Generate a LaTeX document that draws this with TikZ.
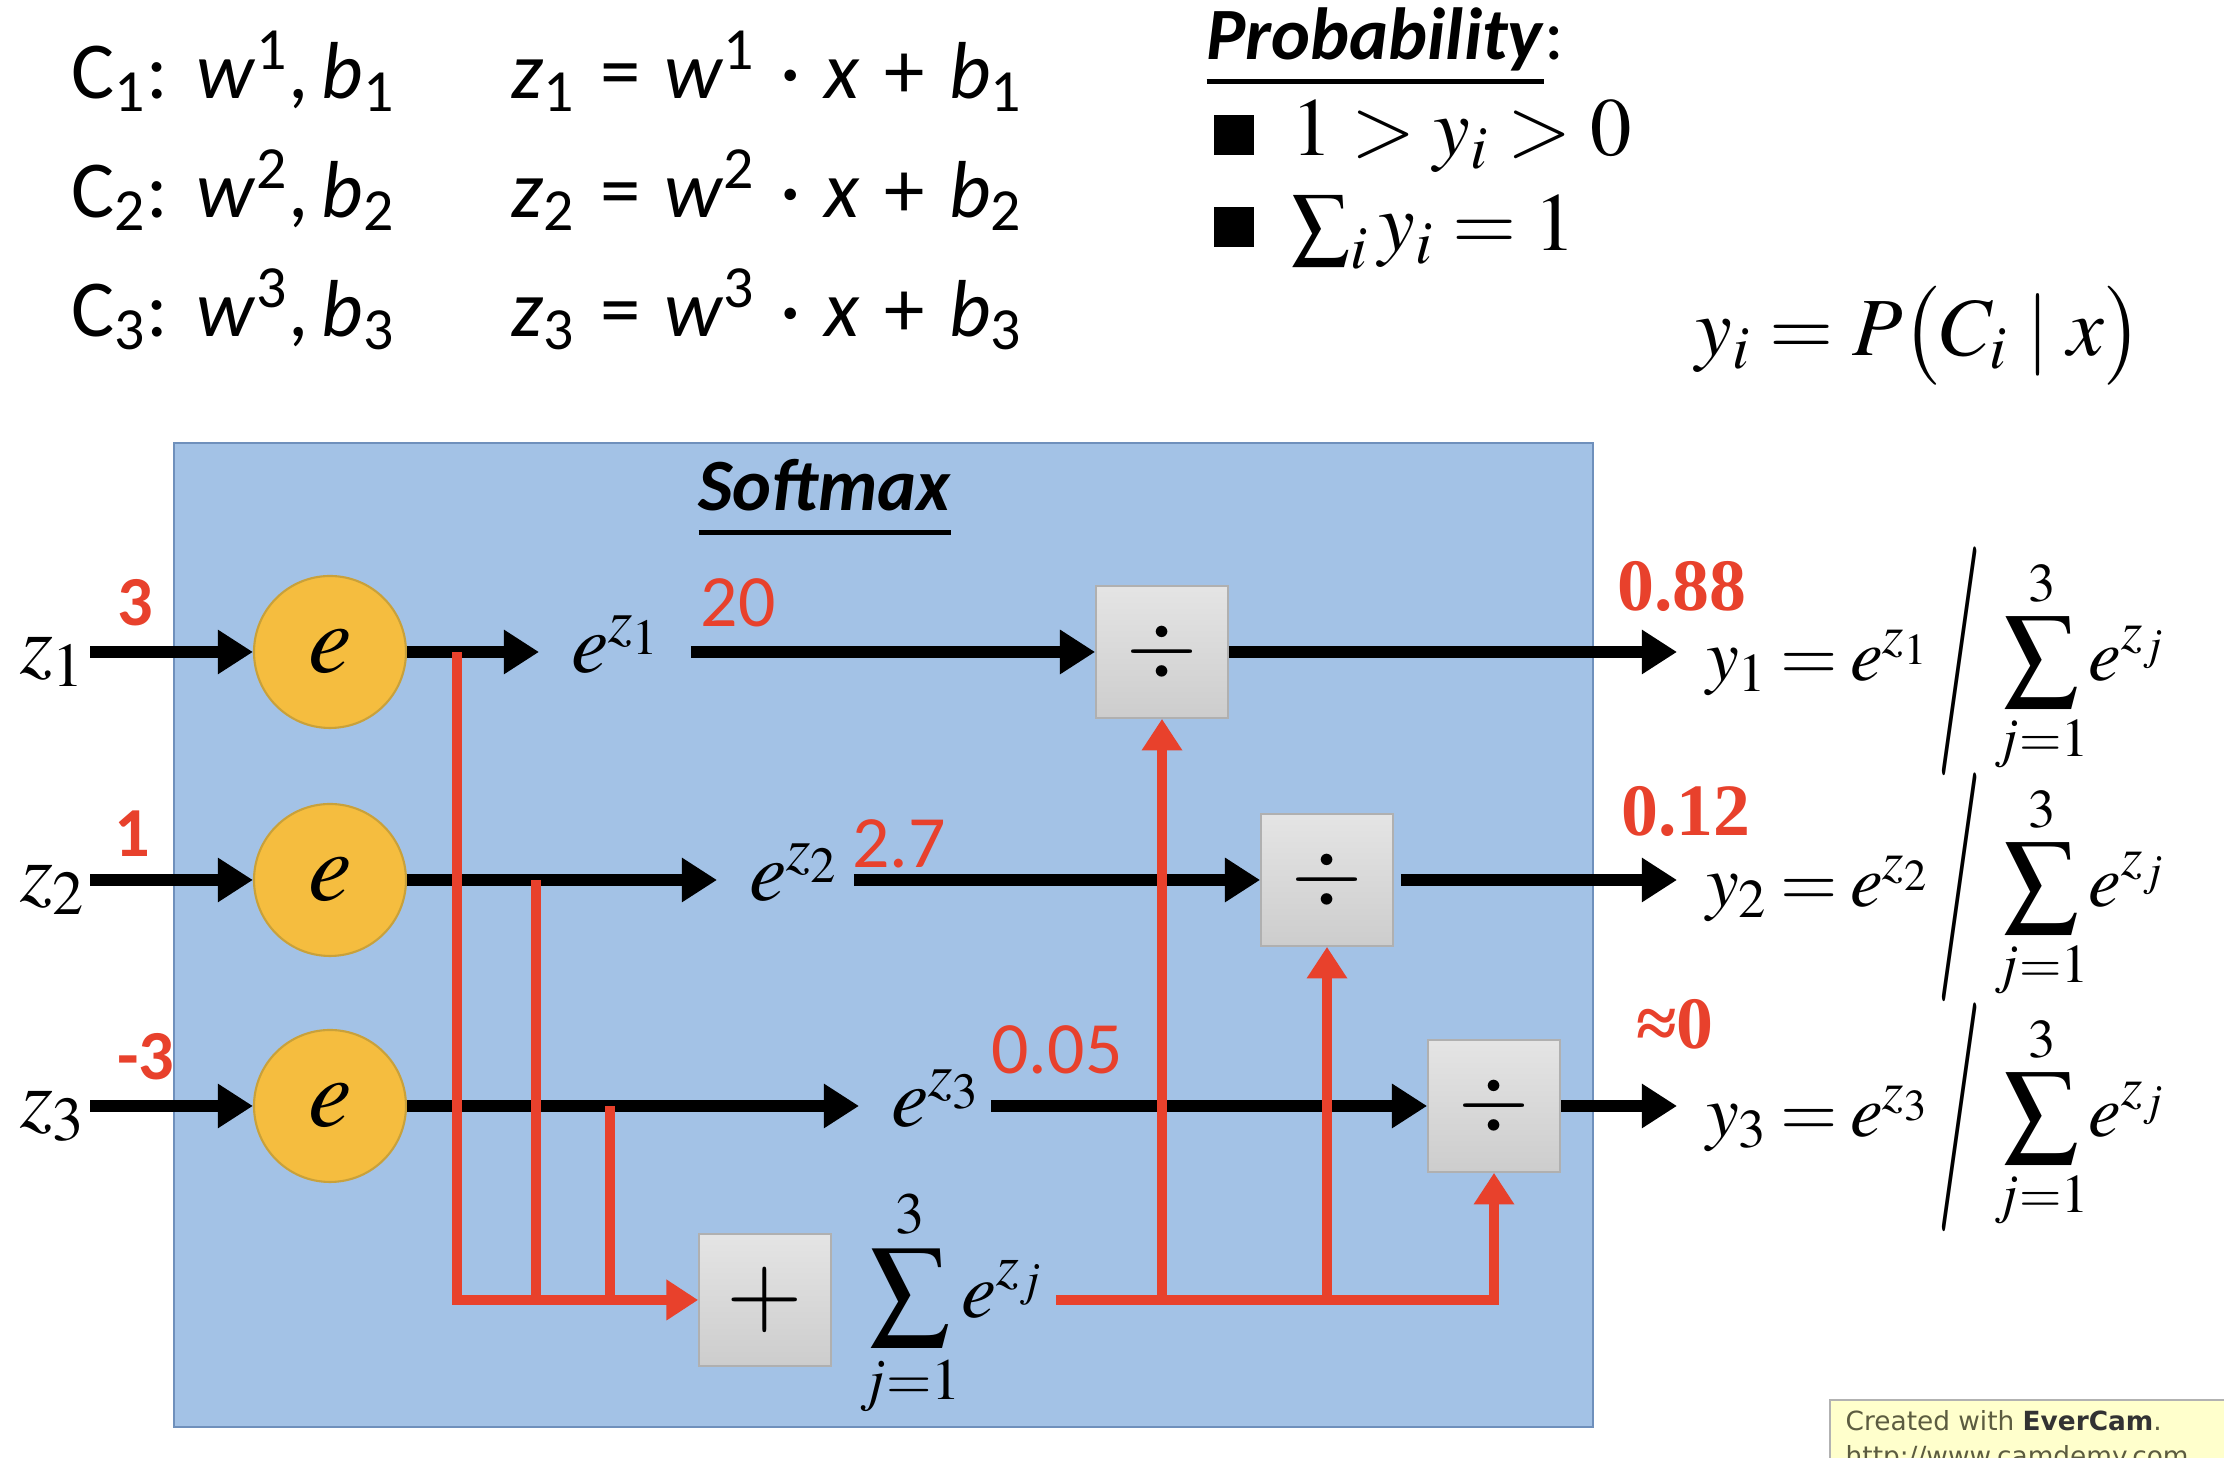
\documentclass[tikz,border=0pt]{standalone}
\usepackage{amsmath}
\usepackage{mathptmx}
\usepackage[no-math]{fontspec}
\setmainfont{Carlito}
\newfontfamily\timesfont{Liberation Serif}
\newfontfamily\camfont{DejaVu Sans}
\usetikzlibrary{arrows.meta,positioning,calc}
\definecolor{boxblue}{HTML}{A3C2E6}
\definecolor{boxedge}{HTML}{6F90BC}
\definecolor{expfill}{HTML}{F5BD3F}
\definecolor{expedge}{HTML}{C9A13A}
\definecolor{softred}{HTML}{E8412C}
\definecolor{opgray}{HTML}{C4C4C4}
\definecolor{opedge}{HTML}{B0B0B0}
\definecolor{camyellow}{HTML}{FFFFCC}
\definecolor{camtext}{HTML}{5C5C40}
\newcommand{\ulthick}[1]{\leavevmode\setbox0=\hbox{#1}\rlap{\rule[-0.32em]{\wd0}{0.06em}}\box0}
\newcommand{\op}[1]{\hspace{0.3em}#1\hspace{0.3em}}
\newcommand{\bigslash}{\mkern2mu\vcenter{\hbox{\scalebox{1.2}[3.1]{$/$}}}\mkern1mu}

\begin{document}
\begin{tikzpicture}[
    blk/.style={-{Triangle[length=10pt,width=12pt]}, line width=3.4pt},
    redarr/.style={-{Triangle[length=9pt,width=11pt]}, line width=2.8pt, softred},
    redln/.style={line width=2.8pt, softred},
    expnode/.style={circle, draw=expedge, line width=0.6pt, fill=expfill,
      minimum size=1.52cm, inner sep=0pt, font=\fontsize{28}{32}\selectfont},
    opbox/.style={draw=opedge, line width=0.5pt, top color=opgray!45, bottom color=opgray!85,
      minimum size=1.32cm, inner sep=0pt, font=\fontsize{26}{30}\selectfont},
    calib/.style={font=\fontsize{23}{27}\selectfont, inner sep=0pt},
    titl/.style={font=\fontsize{21}{25}\selectfont, inner sep=0pt},
    zlab/.style={font=\fontsize{24}{28}\selectfont, inner sep=1pt},
    expo/.style={font=\fontsize{24}{28}\selectfont, inner sep=1pt},
    ymath/.style={font=\fontsize{21}{25}\selectfont, inner sep=1pt},
    pmath/.style={font=\fontsize{23.5}{28}\selectfont, inner sep=0pt},
    redbold/.style={font=\fontsize{20}{24}\selectfont\bfseries, softred, inner sep=0pt},
    redval/.style={font=\fontsize{21}{25}\selectfont, softred, inner sep=0pt},
    redtimes/.style={font=\timesfont\fontsize{21}{25}\selectfont\bfseries, softred, inner sep=0pt},
    camtxt/.style={font=\camfont\fontsize{7.5}{9}\selectfont, camtext, inner sep=0pt},
  ]

  \useasboundingbox (0,0) rectangle (22.24,14.58);
  \fill[white] (0,0) rectangle (22.24,14.58);
  \clip (0,0) rectangle (22.24,14.58);

  % =================== TOP: classes and probability ===================
  \node[calib, anchor=base west] (c1) at (0.71,13.59) {C\textsubscript{1}:\hspace{0.35em}\textit{w}\textsuperscript{1},\,\textit{b}\textsubscript{1}};
  \node[calib, anchor=base west] (c2) at (0.71,12.40) {C\textsubscript{2}:\hspace{0.35em}\textit{w}\textsuperscript{2},\,\textit{b}\textsubscript{2}};
  \node[calib, anchor=base west] (c3) at (0.71,11.21) {C\textsubscript{3}:\hspace{0.35em}\textit{w}\textsuperscript{3},\,\textit{b}\textsubscript{3}};
  \node[calib, anchor=base west] (q1) at (5.11,13.59) {\textit{z}\textsubscript{1}\op{=}\textit{w}\textsuperscript{1}\op{·}\textit{x}\op{+}\textit{b}\textsubscript{1}};
  \node[calib, anchor=base west] (q2) at (5.11,12.40) {\textit{z}\textsubscript{2}\op{=}\textit{w}\textsuperscript{2}\op{·}\textit{x}\op{+}\textit{b}\textsubscript{2}};
  \node[calib, anchor=base west] (q3) at (5.11,11.21) {\textit{z}\textsubscript{3}\op{=}\textit{w}\textsuperscript{3}\op{·}\textit{x}\op{+}\textit{b}\textsubscript{3}};

  \node[titl, anchor=base west] (prob) at (12.06,13.98) {\ulthick{\textbf{\textit{Probability}}}:};
  \node[fill=black, minimum size=0.40cm, inner sep=0pt] (bq1) at (12.34,13.23) {};
  \node[fill=black, minimum size=0.40cm, inner sep=0pt] (bq2) at (12.34,12.31) {};
  \node[pmath, anchor=base west] (pa) at (12.91,13.02) {$1 > y_i > 0$};
  \node[pmath, anchor=base west] (pb) at (12.91,12.07) {$\sum_i y_i = 1$};
  \node[font=\fontsize{23.5}{28}\selectfont, anchor=base west, inner sep=0pt] (pc) at (16.95,11.02) {$y_i = P\bigl(C_i \mid x\bigr)$};

  % =================== SOFTMAX PANEL ===================
  \filldraw[fill=boxblue, draw=boxedge, line width=0.6pt] (1.74,0.31) rectangle (15.93,10.15);
  \node[titl, anchor=base] (soft) at (8.25,9.47) {\ulthick{\textbf{\textit{Softmax}}}};

  % inputs
  \node[zlab] (Z1) at (0.53,7.96) {$z_1$};
  \node[zlab] (Z2) at (0.53,5.68) {$z_2$};
  \node[zlab] (Z3) at (0.53,3.42) {$z_3$};
  \node[redbold] (v1) at (1.35,8.55) {3};
  \node[redbold] (v2) at (1.32,6.24) {1};
  \node[redbold] (v3) at (1.46,4.01) {-3};

  % exponential units
  \node[expnode] (X1) at (3.30,8.06) {$e$};
  \node[expnode] (X2) at (3.30,5.78) {$e$};
  \node[expnode] (X3) at (3.30,3.52) {$e$};
  \draw[blk] (Z1.east |- X1) -- (X1.west);
  \draw[blk] (Z2.east |- X2) -- (X2.west);
  \draw[blk] (Z3.east |- X3) -- (X3.west);

  % exponentials
  \node[expo, anchor=base west] (E1) at (5.67,7.85) {$e^{z_1}$};
  \node[expo, anchor=base west] (E2) at (7.45,5.57) {$e^{z_2}$};
  \node[expo, anchor=base west] (E3) at (8.87,3.31) {$e^{z_3}$};
  \draw[blk, shorten >=0.28cm] (X1.east) -- (E1.west |- X1.east);
  \draw[blk, shorten >=0.28cm] (X2.east) -- (E2.west |- X2.east);
  \draw[blk, shorten >=0.28cm] (X3.east) -- (E3.west |- X3.east);
  \node[redval] (w1) at (7.38,8.55) {20};
  \node[redval] (w2) at (8.99,6.14) {2.7};
  \node[redval] (w3) at (10.57,4.08) {0.05};

  % division units
  \node[opbox] (D1) at (11.62,8.06) {$\div$};
  \node[opbox] (D2) at (13.27,5.78) {$\div$};
  \node[opbox] (D3) at (14.94,3.52) {$\div$};
  \draw[blk, shorten <=0.25cm] (E1.east |- D1.west) -- (D1.west);
  \draw[blk, shorten <=0.10cm] (E2.east |- D2.west) -- (D2.west);
  \draw[blk, shorten <=0.05cm] (E3.east |- D3.west) -- (D3.west);

  % sum unit
  \node[opbox, font=\fontsize{28}{32}\selectfont] (P) at (7.65,1.58) {$+$};
  \node[font=\fontsize{22.5}{27}\selectfont, inner sep=1pt] (S) at (9.52,1.55) {$\displaystyle\sum_{j=1}^{3}\! e^{z_j}$};

  % red wiring
  \coordinate (t1) at (4.57,8.06);
  \coordinate (t2) at (5.36,5.78);
  \coordinate (t3) at (6.10,3.52);
  \draw[redarr] (t1) |- (P.west);
  \draw[redln] (t2) -- (t2 |- P.west);
  \draw[redln] (t3) -- (t3 |- P.west);
  \draw[redarr, shorten <=0.08cm] (S.east |- P.west) -| (D3.south);
  \draw[redarr] (D1.south |- P.west) -- (D1.south);
  \draw[redarr] (D2.south |- P.west) -- (D2.south);

  % =================== OUTPUTS ===================
  \coordinate (o1) at (16.77,8.06);
  \coordinate (o2) at (16.77,5.78);
  \coordinate (o3) at (16.77,3.52);
  \draw[blk] (D1.east) -- (o1);
  \draw[blk, shorten <=0.07cm] (D2.east) -- (o2);
  \draw[blk] (D3.east) -- (o3);
  \node[redtimes] (p1) at (16.82,8.72) {0.88};
  \node[redtimes] (p2) at (16.86,6.47) {0.12};
  \node[redtimes] (p3) at (16.75,4.34) {≈0};
  \node[ymath, anchor=west] (Y1) at (17.02,7.96) {$y_1 \mkern-1mu=\mkern-1mu e^{z_1}\bigslash\displaystyle\sum_{j=1}^{3}\! e^{z_j}$};
  \node[ymath, anchor=west] (Y2) at (17.02,5.70) {$y_2 \mkern-1mu=\mkern-1mu e^{z_2}\bigslash\displaystyle\sum_{j=1}^{3}\! e^{z_j}$};
  \node[ymath, anchor=west] (Y3) at (17.02,3.40) {$y_3 \mkern-1mu=\mkern-1mu e^{z_3}\bigslash\displaystyle\sum_{j=1}^{3}\! e^{z_j}$};

  % =================== WATERMARK ===================
  \filldraw[fill=camyellow, draw=gray!60, line width=0.6pt] (18.30,0.58) rectangle (22.60,-1.00);
  \node[camtxt, anchor=base west] (cam1) at (18.45,0.27) {Created with \textcolor{black!80}{\textbf{EverCam}}.};
  \node[camtxt, anchor=base west] (cam2) at (18.45,-0.08) {http://www.camdemy.com};

\end{tikzpicture}
\end{document}
